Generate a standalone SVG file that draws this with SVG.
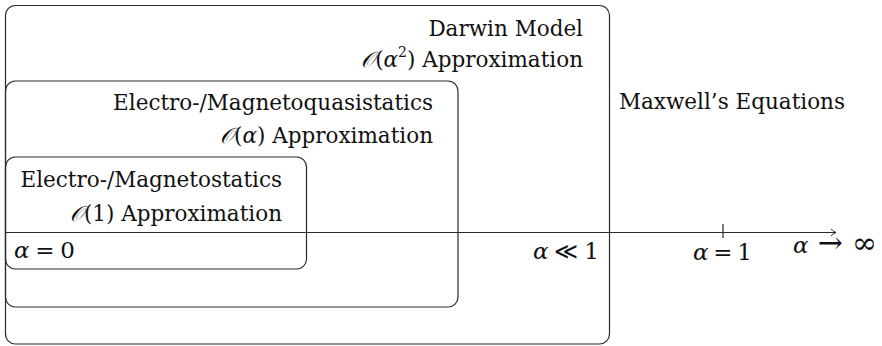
<svg xmlns="http://www.w3.org/2000/svg" width="882" height="346" viewBox="0 0 882 346">
<defs>
<style>
.box{fill:none;stroke:#2b2b2b;stroke-width:1.2}
.ln{fill:none;stroke:#2b2b2b;stroke-width:1.2}
text{font-family:"DejaVu Serif","Liberation Serif",serif;font-size:21.5px;fill:#111}
.m{font-style:italic}
.e{text-anchor:end}
.lab{font-size:23px}
.big{font-size:30px}
</style>
<marker id="arr" markerWidth="10" markerHeight="10" refX="7" refY="5" orient="auto" markerUnits="userSpaceOnUse">
<path d="M2,1.5 Q4.5,4 7,5 Q4.5,6 2,8.5" fill="none" stroke="#2b2b2b" stroke-width="1"/>
</marker>
</defs>
<g id="darwin">
<rect class="box" x="5.5" y="5.5" width="604" height="338.5" rx="10"/>
<text class="e" x="583" y="36">Darwin Model</text>
<text class="e" x="583" y="67"><tspan class="m">𝒪</tspan>(<tspan class="m">α</tspan><tspan font-size="14" dy="-10">2</tspan><tspan dy="10">) Approximation</tspan></text>
</g>
<g id="quasistatics">
<rect class="box" x="5.5" y="81" width="452.5" height="226" rx="10"/>
<text class="e" x="433" y="110">Electro-/Magnetoquasistatics</text>
<text class="e" x="433" y="143"><tspan class="m">𝒪</tspan>(<tspan class="m">α</tspan>) Approximation</text>
</g>
<g id="statics">
<rect class="box" x="5.5" y="157" width="301" height="112" rx="10"/>
<text class="e" x="282" y="187">Electro-/Magnetostatics</text>
<text class="e" x="282" y="221"><tspan class="m">𝒪</tspan>(1) Approximation</text>
</g>
<g id="maxwell">
<text x="619" y="109">Maxwell’s Equations</text>
</g>
<g id="connectors">
<line class="ln" x1="5" y1="232.5" x2="836" y2="232.5" marker-end="url(#arr)"/>
<line class="ln" x1="723" y1="224" x2="723" y2="238"/>
</g>
<g id="labels">
<text class="lab" x="14" y="258" textLength="61" lengthAdjust="spacing"><tspan class="m">α</tspan> = 0</text>
<text class="lab" x="533" y="259" textLength="66" lengthAdjust="spacing"><tspan class="m">α</tspan> ≪ 1</text>
<text class="lab" x="693" y="260" textLength="59" lengthAdjust="spacing"><tspan class="m">α</tspan> = 1</text>
<text class="lab" x="793" y="253" textLength="84" lengthAdjust="spacing"><tspan class="m">α</tspan> <tspan font-size="30">→</tspan> <tspan class="big">∞</tspan></text>
</g>
</svg>
